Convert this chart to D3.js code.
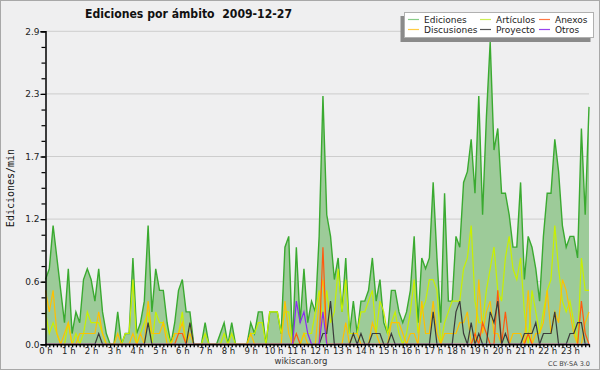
<!DOCTYPE html>
<html lang="es">
<head>
<meta charset="UTF-8">
<title>Ediciones por ámbito 2009-12-27</title>
<script src="https://d3js.org/d3.v7.min.js"></script>
<style>
  body { margin: 0; background: #efeff0; }
  svg { display: block; font-family: "DejaVu Sans", sans-serif; }
</style>
</head>
<body>
<svg width="600" height="370"></svg>
<script>
// etiquetas de horas (una cada 6 puntos de 10 minutos)
const horas = ["0 h","1 h","2 h","3 h","4 h","5 h","6 h","7 h","8 h","9 h","10 h","11 h",
  "12 h","13 h","14 h","15 h","16 h","17 h","18 h","19 h","20 h","21 h","22 h","23 h"];

// ediciones por minuto, tramos de 10 min (144 puntos)
const ediciones = [
  0.6,0.7,1.1,0.8,0.5,0.2, 0.7,0.1,0.3,0.2,0.6,0.7, 0.6,0.4,0.7,0.3,0.1,0,
  0,0.3,0,0.1,0.1,0.8, 0.1,0.2,0.4,1.1,0.3,0.7, 0.5,0.5,0.2,0,0.2,0.5,
  0.6,0.3,0.3,0,0,0, 0.2,0,0,0,0.1,0.2, 0,0.2,0,0,0,0,
  0.2,0.1,0.3,0.3,0,0.3, 0.3,0.3,0.1,0.9,1.0,0, 0.9,0.2,0.7,0.2,0.4,0.3,
  1.0,2.3,1.2,1.0,0.6,0.8, 0.3,0.8,0.1,0.4,0.1,0.4, 0.4,0.5,0.8,0.4,0.6,0.2,
  0.1,0.5,0.5,0.3,0.2,0.3, 0.5,1.0,0.2,0.8,0.7,0.8, 1.5,0.8,0.2,1.4,0.4,0.4,
  1.0,0.9,1.5,1.6,1.9,1.4, 2.3,1.2,2.1,2.8,1.8,2.0, 1.4,1.4,1.2,0.9,0.9,1.5,
  0.6,1.0,0.9,0.7,0.4,1.0, 1.4,1.4,1.9,1.6,1.1,0.9, 1.0,1.0,0.8,2.0,1.2,2.2
];
const articulos = [
  0.3,0.1,0.2,0.1,0,0, 0.2,0,0.1,0,0.1,0.3, 0.2,0.2,0.2,0.1,0,0,
  0,0,0,0.1,0.1,0.6, 0,0.1,0.2,0.3,0,0.3, 0.2,0.2,0.1,0,0.1,0.1,
  0.3,0,0.2,0,0,0, 0.1,0,0,0,0,0.1, 0,0.1,0,0,0,0,
  0.1,0.1,0.2,0.2,0,0.3, 0.3,0.3,0.1,0.3,0.3,0, 0,0,0.1,0.1,0.1,0.3,
  0.5,0.2,0.5,0.2,0.3,0.7, 0.3,0.6,0.1,0.1,0.1,0.3, 0.3,0.4,0.5,0.1,0.4,0.3,
  0.1,0.2,0.3,0.1,0,0.1, 0.3,0.6,0.1,0.3,0.4,0.6, 0.6,0.5,0,0.2,0.3,0.4,
  0.4,0.4,0.7,0.8,1.1,0.4, 0.2,0.2,0.5,0.7,0.9,0.5, 0.4,0.8,1.0,0.7,0.6,0.8,
  0.3,0,0.5,0.3,0.1,0.3, 0.5,0.6,1.1,0.7,0.4,0.3, 0.4,0.2,0,0.8,0.5,0.5
];
const discusiones = [
  0.5,0.3,0.5,0.1,0,0.1, 0.2,0,0,0.1,0.1,0.1, 0.1,0.1,0.3,0.1,0,0,
  0,0.1,0,0,0,0.1, 0,0.1,0,0.4,0.1,0.1, 0.1,0.2,0,0,0.1,0.1,
  0.2,0,0.1,0,0,0, 0,0,0,0,0,0, 0,0,0,0,0,0,
  0.1,0,0,0,0,0, 0,0,0,0.4,0.1,0, 0,0,0.1,0,0,0,
  0.4,0.6,0,0,0,0, 0,0.2,0,0.1,0.1,0, 0,0,0.2,0.1,0,0,
  0,0.2,0.2,0.2,0.1,0, 0.1,0.1,0,0.4,0.1,0.1, 0.4,0.1,0,0.1,0.1,0.1,
  0.1,0.2,0.2,0.3,0,0, 0.6,0.1,0.3,0.4,0.1,0.1, 0,0,0,0.1,0.1,0.1,
  0,0.5,0,0.1,0.1,0.2, 0.5,0.1,0.3,0.2,0.6,0.5, 0.3,0.1,0,0,0.2,0.3
];
const anexos = [
  0,0,0,0,0,0, 0,0,0,0,0,0, 0,0,0,0,0,0,
  0,0,0,0,0,0, 0,0,0,0,0,0, 0,0,0,0,0,0.1,
  0.1,0,0,0,0,0, 0,0,0,0,0,0, 0,0,0,0,0,0,
  0,0,0,0,0,0, 0,0,0,0,0,0, 0.1,0,0,0,0,0,
  0,0.9,0,0,0,0, 0,0,0,0,0,0, 0,0,0,0,0,0,
  0,0,0,0,0,0, 0,0,0,0,0,0, 0,0,0,0,0,0,
  0,0,0,0,0,0.1, 0,0.2,0.1,0,0,0.5, 0,0.3,0,0,0,0,
  0,0.1,0,0,0,0, 0,0,0,0,0,0, 0,0,0,0.4,0.1,0
];
const proyecto = [
  0,0,0,0,0,0, 0,0,0,0,0,0, 0,0,0.1,0,0,0,
  0,0,0,0,0,0, 0,0,0,0.2,0,0, 0,0,0,0,0,0,
  0,0,0.2,0,0,0, 0,0,0,0,0,0, 0,0,0,0,0,0,
  0,0,0,0,0,0, 0,0,0,0,0,0, 0,0,0,0,0,0,
  0,0.1,0.1,0.4,0,0, 0,0,0,0.1,0,0.1, 0,0,0.1,0.1,0.1,0,
  0,0.1,0,0,0,0, 0,0,0,0,0,0, 0.3,0,0,0,0,0,
  0.3,0.4,0.1,0,0.2,0, 0.1,0,0,0.3,0.2,0.4, 0,0.1,0,0,0,0,
  0.1,0.1,0.1,0.2,0,0.1, 0.1,0.1,0.3,0,0,0, 0.1,0.1,0.2,0.2,0,0
];
const otros = [
  0,0,0,0,0,0, 0,0,0,0,0,0, 0,0,0,0,0,0,
  0,0,0,0,0,0, 0,0,0,0,0,0, 0,0,0,0,0,0,
  0,0,0,0,0,0, 0,0,0,0,0,0, 0,0,0,0,0,0,
  0,0,0,0,0,0, 0,0,0,0,0,0, 0.4,0.2,0.3,0.1,0,0,
  0,0.3,0,0,0,0, 0,0,0,0,0,0, 0,0,0,0,0,0,
  0,0,0,0,0,0, 0,0,0,0,0,0, 0,0,0,0,0,0,
  0,0,0,0,0,0, 0,0,0,0,0,0, 0,0,0,0,0,0,
  0,0,0,0,0,0, 0,0,0,0,0,0, 0,0,0,0,0,0
];

const series = [
  { nombre: "Artículos", datos: articulos, color: "#c8f000" },
  { nombre: "Discusiones", datos: discusiones, color: "#ffc000" },
  { nombre: "Anexos", datos: anexos, color: "#ff5a10" },
  { nombre: "Proyecto", datos: proyecto, color: "#3a3a3a" },
  { nombre: "Otros", datos: otros, color: "#8a2cf0" }
];

const svg = d3.select("svg");
const yMax = 2.9;

// fondo y borde
svg.append("rect").attr("width", 600).attr("height", 370).attr("fill", "#efeff0");
svg.append("rect").attr("x", 0.5).attr("y", 0.5).attr("width", 599).attr("height", 369)
  .attr("fill", "none").attr("stroke", "#a8a8a8");

const x = d3.scaleLinear().domain([0, ediciones.length - 1]).range([45.5, 589]);
const y = d3.scaleLinear().domain([0, yMax]).range([344.3, 31.3]);

const mayores = d3.range(6).map(k => yMax * k / 5);
const menores = d3.range(21).map(k => yMax * k / 20);

// rejilla
svg.append("g").selectAll("line").data(mayores.slice(1)).join("line")
  .attr("x1", 46).attr("x2", 589)
  .attr("y1", d => y(d)).attr("y2", d => y(d))
  .attr("stroke", "#cdcdcd").attr("stroke-width", 1);

// área total de ediciones
const area = d3.area().x((d, i) => x(i)).y0(y(0)).y1(d => y(d));
const linea = d3.line().x((d, i) => x(i)).y(d => y(d));

svg.append("path").datum(ediciones).attr("d", area)
  .attr("fill", "#9dcb99");
svg.append("path").datum(ediciones).attr("d", linea)
  .attr("fill", "none").attr("stroke", "#3aaa30").attr("stroke-width", 1.4);

series.forEach(s => {
  svg.append("path").datum(s.datos).attr("d", linea)
    .attr("fill", "none").attr("stroke", s.color).attr("stroke-width", 1.2);
});

// ejes
const ejeY = svg.append("g").attr("transform", "translate(45.5,0)")
  .call(d3.axisLeft(y).tickValues(mayores).tickSize(5).tickPadding(1)
    .tickFormat(d3.format(".1f")));
svg.append("g").attr("transform", "translate(45.5,0)")
  .call(d3.axisLeft(y).tickValues(menores).tickSize(4).tickFormat(""))
  .call(g => g.select(".domain").remove())
  .selectAll("line").attr("stroke-width", 1.2);
ejeY.selectAll("text").attr("font-size", 9).attr("fill", "#222")
  .attr("font-family", "DejaVu Sans");
ejeY.selectAll("line").attr("stroke-width", 1.2);
ejeY.select(".domain").attr("stroke-width", 1.5);

const ejeX = svg.append("g").attr("transform", "translate(0,344.3)")
  .call(d3.axisBottom(x).tickValues(d3.range(ediciones.length)).tickSize(3).tickPadding(1)
    .tickSizeOuter(0)
    .tickFormat(i => i % 6 === 0 ? horas[i / 6] : ""));
ejeX.selectAll("text").attr("font-size", 8.5).attr("fill", "#222")
  .attr("font-family", "DejaVu Sans");
ejeX.selectAll("line").attr("stroke-width", 1.3);
ejeX.select(".domain").attr("stroke-width", 1.5);

// textos
svg.append("text").attr("x", 85).attr("y", 18)
  .attr("font-size", 13).attr("font-weight", "bold").attr("fill", "#111")
  .attr("xml:space", "preserve")
  .attr("textLength", 207).attr("lengthAdjust", "spacingAndGlyphs")
  .text("Ediciones por ámbito  2009-12-27");

svg.append("text").attr("transform", "translate(14,188) rotate(-90)")
  .attr("text-anchor", "middle").attr("font-family", "DejaVu Sans Mono")
  .attr("font-size", 10).attr("fill", "#111").text("Ediciones/min");

svg.append("text").attr("x", 301).attr("y", 364).attr("text-anchor", "middle")
  .attr("font-size", 8.5).attr("fill", "#333").text("wikiscan.org");

svg.append("text").attr("x", 590).attr("y", 366).attr("text-anchor", "end")
  .attr("font-size", 6.5).attr("fill", "#444").text("CC BY-SA 3.0");

// leyenda
const leyenda = [
  { nombre: "Ediciones", color: "#88cc88" },
  { nombre: "Artículos", color: "#ccee55" },
  { nombre: "Anexos", color: "#ff7744" },
  { nombre: "Discusiones", color: "#ffcc44" },
  { nombre: "Proyecto", color: "#555555" },
  { nombre: "Otros", color: "#9944ee" }
];
const colX = [408, 480, 539];
svg.append("rect").attr("x", 400.5).attr("y", 16).attr("width", 190).attr("height", 26)
  .attr("fill", "#8a8a8a");
svg.append("rect").attr("x", 404.5).attr("y", 12.5).attr("width", 189).attr("height", 25)
  .attr("fill", "#ffffff").attr("stroke", "#b0b0b0");
const items = svg.append("g").selectAll("g").data(leyenda).join("g")
  .attr("transform", (d, i) => `translate(${colX[i % 3]},${i < 3 ? 19.5 : 29.5})`);
items.append("line").attr("x1", 0).attr("x2", 11)
  .attr("stroke", d => d.color).attr("stroke-width", 1.2);
items.append("text").attr("x", 16).attr("y", 3).attr("font-size", 9).attr("fill", "#222")
  .text(d => d.nombre);
</script>
</body>
</html>
